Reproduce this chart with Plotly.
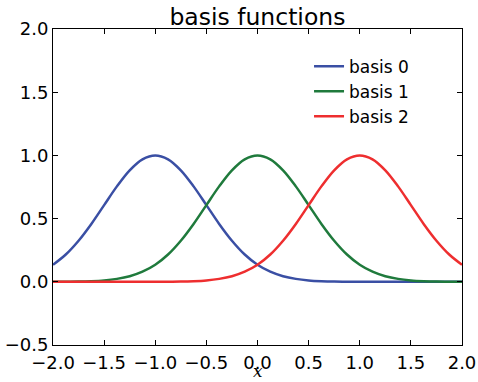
import plotly.graph_objects as go

x_vals = [-2.0, -1.875, -1.75, -1.625, -1.5, -1.375, -1.25, -1.125, -1.0, -0.875, -0.75, -0.625,
          -0.5, -0.375, -0.25, -0.125, 0.0, 0.125, 0.25, 0.375, 0.5, 0.625, 0.75, 0.875,
          1.0, 1.125, 1.25, 1.375, 1.5, 1.625, 1.75, 1.875, 2.0]

basis0 = [0.135, 0.216, 0.325, 0.458, 0.607, 0.755, 0.882, 0.969, 1.0, 0.969, 0.882, 0.755,
          0.607, 0.458, 0.325, 0.216, 0.135, 0.080, 0.044, 0.023, 0.011, 0.005, 0.002, 0.001,
          0.0, 0.0, 0.0, 0.0, 0.0, 0.0, 0.0, 0.0, 0.0]

basis1 = [0.0, 0.001, 0.002, 0.005, 0.011, 0.023, 0.044, 0.080, 0.135, 0.216, 0.325, 0.458,
          0.607, 0.755, 0.882, 0.969, 1.0, 0.969, 0.882, 0.755, 0.607, 0.458, 0.325, 0.216,
          0.135, 0.080, 0.044, 0.023, 0.011, 0.005, 0.002, 0.001, 0.0]

basis2 = [0.0, 0.0, 0.0, 0.0, 0.0, 0.0, 0.0, 0.0, 0.0, 0.001, 0.002, 0.005,
          0.011, 0.023, 0.044, 0.080, 0.135, 0.216, 0.325, 0.458, 0.607, 0.755, 0.882, 0.969,
          1.0, 0.969, 0.882, 0.755, 0.607, 0.458, 0.325, 0.216, 0.135]

names = ["basis 0", "basis 1", "basis 2"]
colors = ["#3a4fa4", "#1f7a3c", "#ee2e2f"]
series = [basis0, basis1, basis2]

fig = go.Figure()
for name, col, ys in zip(names, colors, series):
    fig.add_trace(go.Scatter(x=x_vals, y=ys, mode="lines", name=name,
                             line=dict(color=col, width=2.5, shape="spline", smoothing=1)))

font_main = "DejaVu Sans, Liberation Sans, sans-serif"
axis_common = dict(showgrid=False, zeroline=False, showline=True, linecolor="black", linewidth=1,
                   mirror="ticks", ticks="inside", ticklen=5, tickcolor="black", automargin=False,
                   tickfont=dict(size=18, color="black", family=font_main))

fig.update_layout(
    width=478, height=382,
    margin=dict(l=53, r=16, t=29, b=37),
    paper_bgcolor="white", plot_bgcolor="white",
    font=dict(family=font_main, color="black"),
    title=dict(text="basis functions", x=0.5385, xanchor="center", y=0.955, yanchor="middle",
               font=dict(size=23.5, color="black", family=font_main)),
    xaxis=dict(range=[-2, 2], tickvals=[-2, -1.5, -1, -0.5, 0, 0.5, 1, 1.5, 2],
               ticktext=["\u22122.0", "\u22121.5", "\u22121.0", "\u22120.5", "0.0", "0.5", "1.0", "1.5", "2.0"],
               ticklabelstandoff=1,
               **axis_common),
    yaxis=dict(range=[-0.5, 2], tickvals=[-0.5, 0, 0.5, 1, 1.5, 2],
               ticktext=["\u22120.5", "0.0", "0.5", "1.0", "1.5", "2.0"],
               ticklabelstandoff=0,
               **axis_common),
    legend=dict(x=0.626, y=0.938, xanchor="left", yanchor="top", bgcolor="rgba(0,0,0,0)",
                borderwidth=0, font=dict(size=17, color="black", family=font_main),
                tracegroupgap=0),
    annotations=[dict(text="<i>x</i>", xref="paper", yref="paper", x=0.5, y=-0.1165,
                      xanchor="center", yanchor="bottom", showarrow=False, borderpad=0,
                      font=dict(size=17, color="black", family="DejaVu Serif, Liberation Serif, serif"))],
)

fig.write_html("out.html")
